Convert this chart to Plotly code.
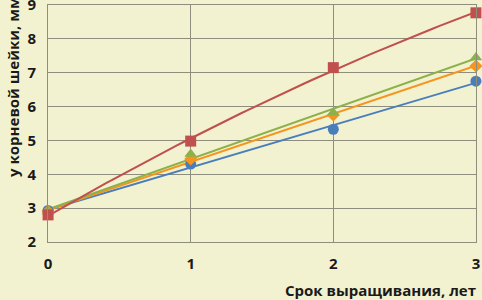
import numpy as np
import plotly.graph_objects as go

years = [0, 1, 2, 3]
blue = [2.93, 4.30, 5.33, 6.75]
red = [2.80, 4.98, 7.15, 8.77]
green = [2.90, 4.60, 5.82, 7.45]
orange = [2.90, 4.45, 5.75, 7.20]
x_ticks = [0, 1, 2, 3]
y_ticks = [2, 3, 4, 5, 6, 7, 8, 9]
x_title = "Срок выращивания, лет"
y_title = "у корневой шейки, мм"

series = [
    (blue, "#4a7ebb", "circle", 1, 11),
    (orange, "#f7941d", "diamond", 1, 10),
    (green, "#8cb04a", "triangle-up", 1, 11),
    (red, "#c0504d", "square", 2, 11),
]

fig = go.Figure()
xs = np.linspace(0, 3, 61)
for vals, col, sym, deg, size in series:
    coef = np.polyfit(years, vals, deg)
    fig.add_trace(go.Scatter(x=xs, y=np.polyval(coef, xs), mode="lines",
                             line=dict(color=col, width=2), hoverinfo="skip",
                             showlegend=False))
for vals, col, sym, deg, size in series:
    fig.add_trace(go.Scatter(x=years, y=vals, mode="markers",
                             marker=dict(color=col, symbol=sym, size=size),
                             showlegend=False, cliponaxis=False))

bg = "#f2f2d0"
grid = "#8e8e7e"
tf = dict(family="Open Sans", size=15, color="#1a1a1a", weight="bold")
fig.update_layout(
    width=482, height=300,
    margin=dict(l=48, r=6, t=5, b=58),
    paper_bgcolor=bg, plot_bgcolor=bg,
    font=tf,
    xaxis=dict(range=[-0.0005, 3.0005], tickvals=x_ticks, showgrid=True, gridcolor=grid,
               gridwidth=1, zeroline=False, showline=True, linecolor=grid, mirror=True,
               ticks="", tickfont=tf, ticklabelstandoff=8, ticklabeloverflow="allow",
               automargin=False),
    yaxis=dict(range=[1.999, 9.001], tickvals=y_ticks, showgrid=True, gridcolor=grid,
               gridwidth=1, zeroline=False, showline=True, linecolor=grid, mirror=True,
               ticks="", tickfont=tf, ticklabelstandoff=8, ticklabeloverflow="allow",
               automargin=False),
    annotations=[
        dict(text=x_title, xref="paper", yref="paper", x=1.005, y=-0.15,
             xanchor="right", yanchor="top", showarrow=False, font=tf),
        dict(text=y_title, xref="paper", yref="paper", x=-0.082, y=0.268,
             xanchor="center", yanchor="bottom", textangle=-90, showarrow=False,
             font=tf),
    ],
)
fig.write_html("out.html", config={"displayModeBar": False},
               post_script="document.body.style.margin='0';document.body.style.background='#f2f2d0';")
